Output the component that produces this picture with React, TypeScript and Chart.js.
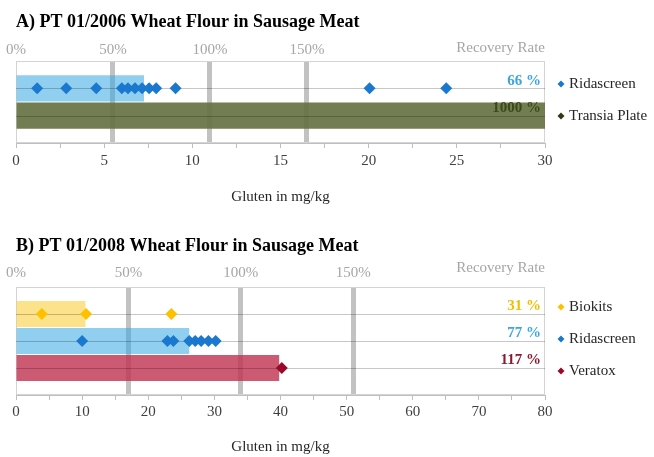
import React, { useEffect, useRef } from 'react';
import { Chart, registerables } from 'chart.js';

Chart.register(...registerables);

const FONT = "'Liberation Serif', 'Times New Roman', serif";

// ---------- Panel A data ----------
const titleA = 'A) PT 01/2006 Wheat Flour in Sausage Meat';
const nominalA = 11; // mg/kg = 100 % recovery
const methodsA = ['Ridascreen', 'Transia Plate'];
const medianA = [7.26, 110];
const recoveryLabelsA = ['66 %', '1000 %'];
const ridascreenA = [1.2, 2.85, 4.55, 6.0, 6.35, 6.75, 7.15, 7.55, 7.95, 9.05, 20.05, 24.4];
const transiaA: number[] = [];
const xMaxA = 30;
const xTickStepA = 2.5;
const xLabelStepA = 5;

// ---------- Panel B data ----------
const titleB = 'B) PT 01/2008 Wheat Flour in Sausage Meat';
const nominalB = 34;
const methodsB = ['Biokits', 'Ridascreen', 'Veratox'];
const medianB = [10.5, 26.2, 39.8];
const recoveryLabelsB = ['31 %', '77 %', '117 %'];
const biokitsB = [3.9, 10.6, 23.5];
const ridascreenB = [10.0, 22.9, 23.8, 26.2, 27.1, 28.0, 29.1, 30.2];
const veratoxB = [40.2];
const xMaxB = 80;
const xTickStepB = 5;
const xLabelStepB = 10;

// ---------- shared ----------
const recoveryTicks = [0, 50, 100, 150];
const xTitle = 'Gluten in mg/kg';
const recoveryTitle = 'Recovery Rate';

const methodStyle: Record<string, { bar: string; point: string; label: string }> = {
  Ridascreen: { bar: 'rgba(55,168,228,0.55)', point: '#1a78cf', label: '#3aa6e0' },
  'Transia Plate': { bar: 'rgba(103,114,67,0.92)', point: '#2e3a12', label: '#3a4a18' },
  Biokits: { bar: 'rgba(251,207,63,0.6)', point: '#ffc000', label: '#f0c000' },
  Veratox: { bar: 'rgba(192,49,80,0.8)', point: '#9a0a28', label: '#8c1a2e' },
};

type Panel = {
  title: string;
  nominal: number;
  methods: string[];
  medians: number[];
  recoveryLabels: string[];
  points: number[][];
  xMax: number;
  xTickStep: number;
  xLabelStep: number;
  lay: {
    titlePadTop: number;
    x2TickPad: number;
    x2TitlePadTop: number;
    xTickPad: number;
    xTitlePadTop: number;
    xTitlePadBottom: number;
    legendSpacing: number;
  };
};

const panelA: Panel = {
  title: titleA,
  nominal: nominalA,
  methods: methodsA,
  medians: medianA,
  recoveryLabels: recoveryLabelsA,
  points: [ridascreenA, transiaA],
  xMax: xMaxA,
  xTickStep: xTickStepA,
  xLabelStep: xLabelStepA,
  lay: { titlePadTop: 11.2, x2TickPad: 2, x2TitlePadTop: 6.2, xTickPad: 4, xTitlePadTop: 14, xTitlePadBottom: 22, legendSpacing: 32 },
};

const panelB: Panel = {
  title: titleB,
  nominal: nominalB,
  methods: methodsB,
  medians: medianB,
  recoveryLabels: recoveryLabelsB,
  points: [biokitsB, ridascreenB, veratoxB],
  xMax: xMaxB,
  xTickStep: xTickStepB,
  xLabelStep: xLabelStepB,
  lay: { titlePadTop: 7.2, x2TickPad: 5, x2TitlePadTop: 2.2, xTickPad: 3, xTitlePadTop: 14.5, xTitlePadBottom: 0.5, legendSpacing: 32 },
};

function makeDecor(p: Panel) {
  const n = p.methods.length;
  return {
    id: 'decor',
    beforeDatasetsDraw(chart: any) {
      const { ctx, chartArea } = chart;
      ctx.save();
      ctx.strokeStyle = '#d4d4d4';
      ctx.lineWidth = 1;
      ctx.strokeRect(chartArea.left + 0.5, chartArea.top + 0.5, chartArea.right - chartArea.left - 1, chartArea.bottom - chartArea.top - 1);
      ctx.restore();
    },
    afterDatasetDraw(chart: any, args: any) {
      if (args.meta.type !== 'bar') return;
      const { ctx, chartArea } = chart;
      const y = chart.scales.y;
      ctx.save();
      ctx.strokeStyle = 'rgba(0,0,0,0.22)';
      ctx.lineWidth = 1;
      p.methods.forEach((_, i) => {
        const py = Math.round(y.getPixelForValue(n - i)) + 0.5;
        ctx.beginPath();
        ctx.moveTo(chartArea.left, py);
        ctx.lineTo(chartArea.right, py);
        ctx.stroke();
      });
      ctx.restore();
    },
    afterDraw(chart: any) {
      const { ctx, chartArea } = chart;
      const y = chart.scales.y;
      ctx.save();
      ctx.font = `bold 15px ${FONT}`;
      ctx.textAlign = 'right';
      ctx.textBaseline = 'middle';
      p.methods.forEach((m, i) => {
        const py = y.getPixelForValue(n - i);
        ctx.fillStyle = methodStyle[m].label;
        ctx.fillText(p.recoveryLabels[i], chartArea.right - 4, py - 7.5);
      });
      const mid = (chartArea.top + chartArea.bottom) / 2 - 2;
      ctx.font = `15px ${FONT}`;
      ctx.textAlign = 'left';
      p.methods.forEach((m, i) => {
        const cy = mid + (i - (n - 1) / 2) * p.lay.legendSpacing;
        const cx = chartArea.right + 16;
        const r = 3.5;
        ctx.fillStyle = methodStyle[m].point;
        ctx.beginPath();
        ctx.moveTo(cx, cy - r);
        ctx.lineTo(cx + r, cy);
        ctx.lineTo(cx, cy + r);
        ctx.lineTo(cx - r, cy);
        ctx.closePath();
        ctx.fill();
        ctx.fillStyle = '#262626';
        ctx.fillText(m, cx + 8, cy);
      });
      ctx.restore();
    },
  };
}

function buildConfig(p: Panel): any {
  const n = p.methods.length;
  const barData = p.medians.map((v, i) => ({ x: v, y: n - i }));
  const scatterSets = p.points.map((pts, i) => {
    const c = methodStyle[p.methods[i]].point;
    return {
      type: 'scatter',
      label: p.methods[i],
      data: pts.map((v) => ({ x: v, y: n - i })),
      pointStyle: 'rectRot',
      pointRadius: 6,
      pointBackgroundColor: c,
      pointBorderColor: c,
      pointBorderWidth: 0,
      showLine: false,
      order: 0,
    };
  });
  return {
    type: 'bar',
    data: {
      datasets: [
        {
          type: 'bar',
          label: 'median',
          data: barData,
          backgroundColor: p.methods.map((m) => methodStyle[m].bar),
          borderWidth: 0,
          barPercentage: 1,
          categoryPercentage: 0.96,
          order: 1,
        },
        ...scatterSets,
      ],
    },
    options: {
      indexAxis: 'y',
      responsive: false,
      animation: false,
      layout: { padding: { left: 16, right: 109, top: 0, bottom: 0 } },
      plugins: {
        legend: { display: false },
        tooltip: { enabled: false },
        title: {
          display: true,
          text: p.title,
          align: 'start',
          color: '#000',
          font: { family: FONT, size: 18, weight: 'bold' },
          padding: { top: p.lay.titlePadTop, bottom: 0 },
        },
      },
      scales: {
        x: {
          type: 'linear',
          position: 'bottom',
          min: 0,
          max: p.xMax,
          offset: false,
          ticks: {
            stepSize: p.xTickStep,
            autoSkip: false,
            maxRotation: 0,
            padding: p.lay.xTickPad,
            color: '#404040',
            font: { family: FONT, size: 15 },
            callback: (v: number) => (Math.abs(v % p.xLabelStep) < 1e-9 ? String(v) : ''),
          },
          grid: { drawOnChartArea: false, drawTicks: true, tickLength: 5, color: '#bfbfbf', lineWidth: 1 },
          border: { display: true, color: '#bfbfbf' },
          title: {
            display: true,
            text: xTitle,
            color: '#262626',
            font: { family: FONT, size: 15 },
            padding: { top: p.lay.xTitlePadTop, bottom: p.lay.xTitlePadBottom },
          },
        },
        x2: {
          type: 'linear',
          position: 'top',
          min: 0,
          max: (p.xMax / p.nominal) * 100,
          offset: false,
          afterBuildTicks: (s: any) => {
            s.ticks = recoveryTicks.map((v) => ({ value: v }));
          },
          ticks: {
            autoSkip: false,
            maxRotation: 0,
            padding: p.lay.x2TickPad,
            color: '#a6a6a6',
            font: { family: FONT, size: 15 },
            callback: (v: number) => `${v}%`,
          },
          grid: {
            drawTicks: false,
            offset: false,
            lineWidth: 5,
            color: (ctx: any) => (ctx.tick && ctx.tick.value > 0 ? '#c2c2c2' : 'rgba(0,0,0,0)'),
          },
          border: { display: false },
          title: {
            display: true,
            text: recoveryTitle,
            align: 'end',
            color: '#a6a6a6',
            font: { family: FONT, size: 15 },
            padding: { top: p.lay.x2TitlePadTop, bottom: -18 },
          },
        },
        y: {
          type: 'linear',
          display: false,
          offset: false,
          grid: { offset: false },
          min: 0,
          max: n + 1,
          ticks: { stepSize: 1 },
        },
      },
    },
    plugins: [makeDecor(p)],
  };
}

function PanelChart({ panel, height }: { panel: Panel; height: number }) {
  const ref = useRef<HTMLCanvasElement>(null);
  useEffect(() => {
    if (!ref.current) return;
    const chart = new Chart(ref.current, buildConfig(panel));
    return () => chart.destroy();
  }, [panel]);
  return <canvas ref={ref} width={654} height={height} style={{ display: 'block', width: 654, height }} />;
}

export default function App() {
  Chart.defaults.font.family = FONT;
  return (
    <div style={{ position: 'absolute', left: 0, top: 0, width: 654, height: 457, background: '#fff' }}>
      <PanelChart panel={panelA} height={228} />
      <PanelChart panel={panelB} height={229} />
    </div>
  );
}
